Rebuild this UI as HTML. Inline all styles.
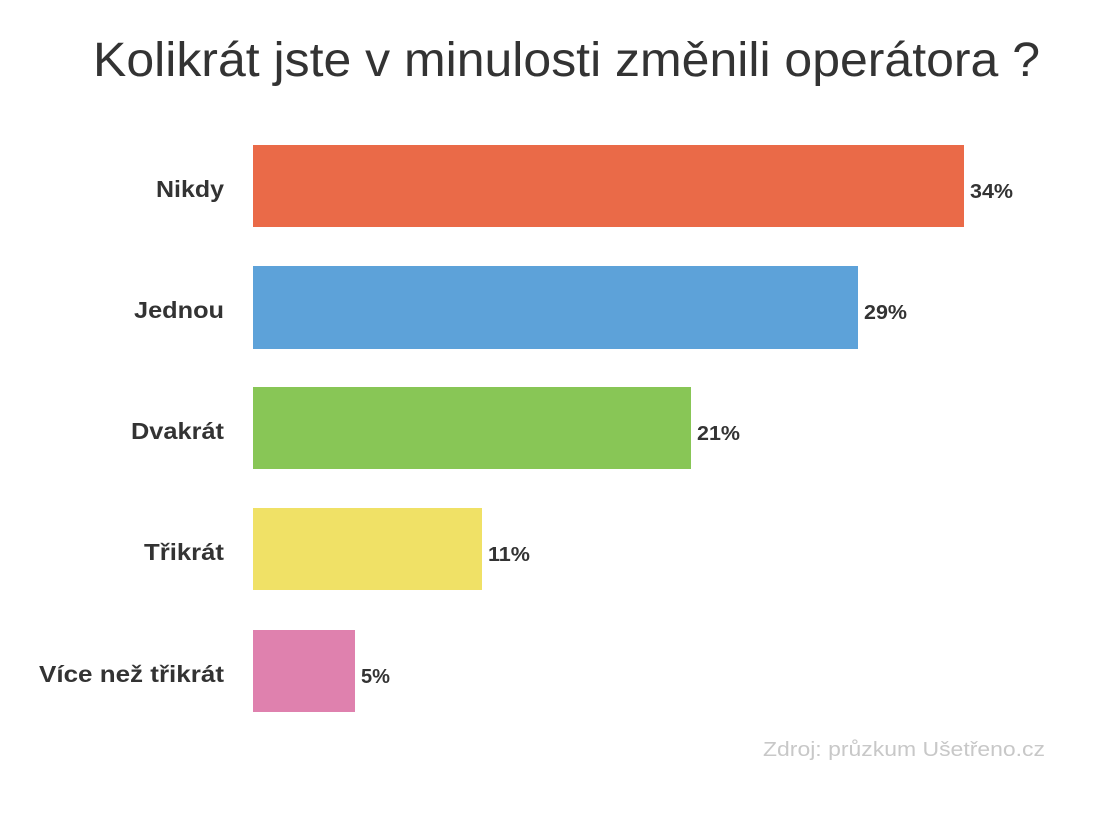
<!DOCTYPE html>
<html><head><meta charset="utf-8"><style>
html,body{margin:0;padding:0;background:#fff;}
svg{display:block;font-family:"Liberation Sans",sans-serif;}
</style></head><body>
<svg width="1117" height="830" viewBox="0 0 1117 830" xmlns="http://www.w3.org/2000/svg">
<rect width="1117" height="830" fill="#fff"/>
<text x="93" y="76" font-size="48" fill="#333" textLength="947" lengthAdjust="spacingAndGlyphs">Kolikrát jste v minulosti změnili operátora ?</text>
<g fill="#333" font-weight="bold" font-size="23" text-anchor="end">
<text x="224" y="197" textLength="68" lengthAdjust="spacingAndGlyphs">Nikdy</text>
<text x="224" y="318" textLength="90" lengthAdjust="spacingAndGlyphs">Jednou</text>
<text x="224" y="439" textLength="93" lengthAdjust="spacingAndGlyphs">Dvakrát</text>
<text x="224" y="560" textLength="80" lengthAdjust="spacingAndGlyphs">Třikrát</text>
<text x="224" y="682" textLength="185" lengthAdjust="spacingAndGlyphs">Více než třikrát</text>
</g>
<rect x="253" y="145" width="711" height="82" fill="#EA6A48"/>
<rect x="253" y="266" width="605" height="83" fill="#5DA2D9"/>
<rect x="253" y="387" width="438" height="82" fill="#88C656"/>
<rect x="253" y="508" width="229" height="82" fill="#F0E166"/>
<rect x="253" y="630" width="102" height="82" fill="#DF81AE"/>
<g fill="#333" font-weight="bold" font-size="20">
<text x="970" y="198" textLength="43" lengthAdjust="spacingAndGlyphs">34%</text>
<text x="864" y="319" textLength="43" lengthAdjust="spacingAndGlyphs">29%</text>
<text x="697" y="440" textLength="43" lengthAdjust="spacingAndGlyphs">21%</text>
<text x="488" y="561" textLength="42" lengthAdjust="spacingAndGlyphs">11%</text>
<text x="361" y="683" textLength="29" lengthAdjust="spacingAndGlyphs">5%</text>
</g>
<text x="1045" y="756" font-size="20" fill="#c8c8c8" text-anchor="end" textLength="282" lengthAdjust="spacingAndGlyphs">Zdroj: průzkum Ušetřeno.cz</text>
</svg>
</body></html>
